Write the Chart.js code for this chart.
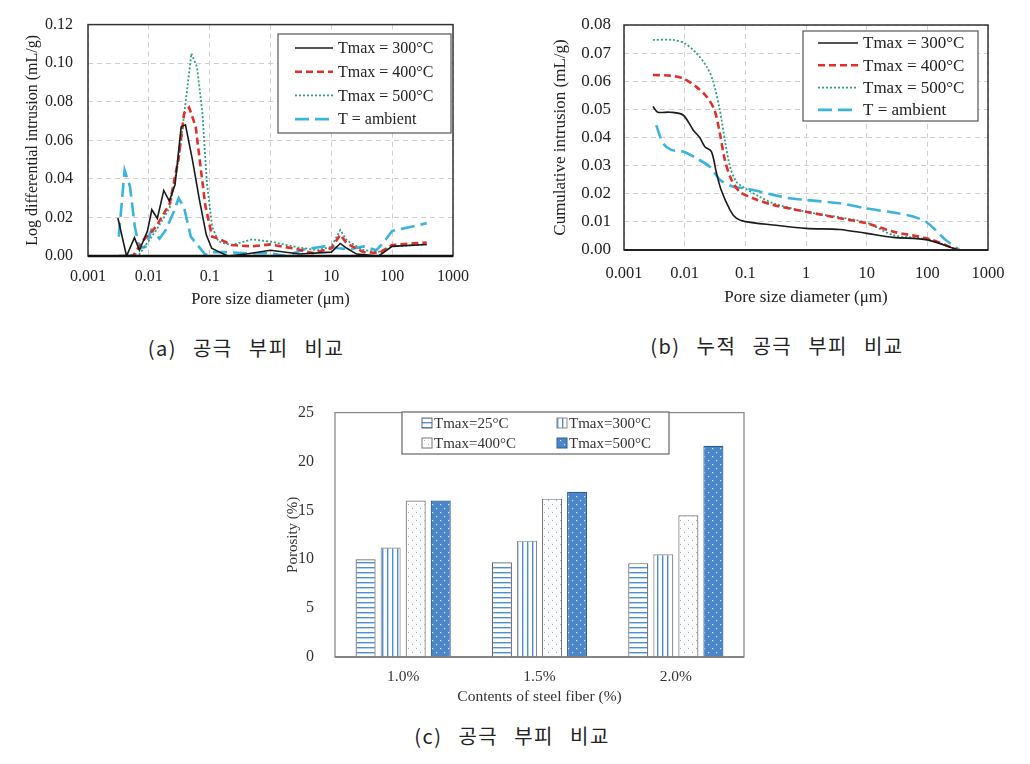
<!DOCTYPE html>
<html>
<head>
<meta charset="utf-8">
<script src="https://cdn.jsdelivr.net/npm/chart.js@4.4.1/dist/chart.umd.min.js"></script>
<style>
  body { margin: 0; background: #fff; width: 1030px; height: 764px; position: relative; overflow: hidden; }
  .panel { position: absolute; }
  .cap { position: absolute; font-family: "Noto Sans CJK KR", sans-serif; font-size: 20px; color: #222;
         white-space: pre; letter-spacing: 1.5px; word-spacing: 10px; transform: translate(-50%, -50%); }
</style>
</head>
<body>
<div class="panel" style="left:0;top:0;width:480px;height:320px"><canvas id="diffChart"></canvas></div>
<div class="panel" style="left:520px;top:0;width:510px;height:320px"><canvas id="cumChart"></canvas></div>
<div class="panel" style="left:270px;top:390px;width:500px;height:330px"><canvas id="porosityChart"></canvas></div>
<div class="cap" style="left:246px;top:347px">(a) 공극 부피 비교</div>
<div class="cap" style="left:777px;top:345px">(b) 누적 공극 부피 비교</div>
<div class="cap" style="left:512px;top:735px">(c) 공극 부피 비교</div>
<script>
// shared labels
const poreTicks = [0.001, 0.01, 0.1, 1, 10, 100, 1000];
const seriesLabels = ['Tmax = 300°C', 'Tmax = 400°C', 'Tmax = 500°C', 'T = ambient'];

// (a) log differential intrusion (mL/g) vs pore diameter (µm)
const diffD300 = [0.0031, 0.0043, 0.0058, 0.0070, 0.0095, 0.0112, 0.0138, 0.0176, 0.0217, 0.027, 0.034, 0.040, 0.052, 0.068, 0.088, 0.108, 0.145, 0.2, 0.4, 1.0, 3, 10, 14, 18, 26, 60, 100, 370];
const diffV300 = [0.0197, 0, 0.0095, 0.003, 0.013, 0.024, 0.0195, 0.034, 0.0285, 0.037, 0.067, 0.068, 0.050, 0.029, 0.011, 0.004, 0.002, 0, 0.001, 0.003, 0.001, 0.002, 0.0065, 0.004, 0.001, 0, 0.005, 0.006];
const diffD400 = [0.0032, 0.0055, 0.008, 0.013, 0.022, 0.031, 0.038, 0.046, 0.059, 0.071, 0.085, 0.11, 0.14, 0.23, 0.5, 1, 2.8, 5, 10, 14, 18, 34, 60, 100, 370];
const diffV400 = [0, 0, 0.008, 0.015, 0.027, 0.051, 0.074, 0.077, 0.067, 0.046, 0.026, 0.010, 0.009, 0.0057, 0.005, 0.006, 0.0035, 0.0015, 0.004, 0.011, 0.0065, 0.002, 0.0015, 0.0057, 0.007];
const diffD500 = [0.0032, 0.007, 0.013, 0.022, 0.031, 0.040, 0.050, 0.062, 0.076, 0.090, 0.11, 0.14, 0.23, 0.5, 1, 2.8, 6, 10, 14, 18, 34, 60, 100, 370];
const diffV500 = [0, 0.001, 0.013, 0.025, 0.050, 0.079, 0.105, 0.098, 0.074, 0.038, 0.015, 0.0075, 0.0057, 0.0086, 0.0075, 0.0045, 0.003, 0.0048, 0.0135, 0.008, 0.003, 0.0022, 0.005, 0.006];
const diffDAmb = [0.0032, 0.004, 0.0049, 0.0059, 0.007, 0.009, 0.011, 0.015, 0.019, 0.025, 0.031, 0.038, 0.049, 0.066, 0.085, 0.11, 0.18, 0.43, 1, 1.8, 3.6, 7.7, 13, 20, 34, 55, 70, 100, 370];
const diffVAmb = [0.010, 0.0445, 0.036, 0.015, 0.004, 0.005, 0.0135, 0.009, 0.0135, 0.022, 0.030, 0.025, 0.010, 0.005, 0.0005, 0.002, 0.002, 0.0014, 0.0014, 0, 0.0035, 0.005, 0.004, 0.0035, 0.005, 0.003, 0.0065, 0.013, 0.017];

// (b) cumulative intrusion (mL/g)
const cumD300 = [0.0030, 0.0036, 0.0057, 0.0094, 0.0138, 0.0177, 0.0215, 0.0276, 0.0335, 0.040, 0.056, 0.071, 0.1, 0.29, 1, 3.6, 10, 27.5, 100, 320];
const cumV300 = [0.051, 0.049, 0.049, 0.048, 0.0427, 0.040, 0.0367, 0.035, 0.0273, 0.0213, 0.0142, 0.0113, 0.0101, 0.0089, 0.0077, 0.0073, 0.0059, 0.0045, 0.0036, 0];
const cumD400 = [0.0030, 0.0057, 0.0094, 0.0156, 0.023, 0.031, 0.038, 0.046, 0.059, 0.081, 0.134, 0.29, 1, 3.6, 10, 27.5, 100, 320];
const cumV400 = [0.0622, 0.062, 0.061, 0.058, 0.0545, 0.0498, 0.0415, 0.032, 0.025, 0.0207, 0.0184, 0.016, 0.0136, 0.0113, 0.0095, 0.0065, 0.0041, 0];
const cumD500 = [0.0030, 0.0064, 0.0100, 0.0156, 0.023, 0.029, 0.038, 0.046, 0.056, 0.071, 0.1, 0.17, 0.29, 1, 3.6, 10, 27.5, 100, 320];
const cumV500 = [0.0747, 0.0747, 0.0735, 0.070, 0.0652, 0.0604, 0.0498, 0.039, 0.0296, 0.0243, 0.0219, 0.019, 0.0166, 0.0136, 0.0116, 0.0097, 0.0053, 0.0038, 0];
const cumDAmb = [0.0034, 0.0044, 0.006, 0.0094, 0.0156, 0.026, 0.038, 0.063, 0.1, 0.29, 0.54, 1, 3.6, 10, 27.5, 58, 100, 200, 340];
const cumVAmb = [0.0444, 0.038, 0.0356, 0.035, 0.0326, 0.0296, 0.025, 0.0225, 0.0219, 0.0196, 0.0184, 0.0178, 0.0166, 0.0148, 0.0133, 0.0119, 0.0097, 0.0036, 0];

// (c) porosity (%) by steel fiber content
const fiberContents = ['1.0%', '1.5%', '2.0%'];
const porosityLabels = ['Tmax=25°C', 'Tmax=300°C', 'Tmax=400°C', 'Tmax=500°C'];
const porosity25 = [10.0, 9.7, 9.6];
const porosity300 = [11.2, 11.9, 10.5];
const porosity400 = [16.0, 16.2, 14.5];
const porosity500 = [16.0, 16.9, 21.6];

Chart.defaults.font.family = '"Liberation Serif", "Times New Roman", serif';
Chart.defaults.color = '#222';
Chart.defaults.animation = false;

const toPoints = (xs, ys) => xs.map((x, i) => ({ x: x, y: ys[i] }));

// frame around plot area, heavier bottom axis
const frameBox = {
  id: 'frameBox',
  afterDraw(chart, args, o) {
    const { ctx, chartArea: a } = chart;
    ctx.save();
    ctx.strokeStyle = o.color;
    ctx.lineWidth = o.width;
    ctx.strokeRect(a.left, a.top, a.right - a.left, a.bottom - a.top);
    ctx.lineWidth = o.bottomWidth;
    ctx.strokeStyle = o.bottomColor;
    ctx.beginPath();
    ctx.moveTo(a.left, a.bottom);
    ctx.lineTo(a.right, a.bottom);
    ctx.stroke();
    ctx.restore();
  }
};

// boxed legend for the line charts
const lineLegend = {
  id: 'lineLegend',
  afterDraw(chart, args, o) {
    if (!o.show) return;
    const ctx = chart.ctx;
    ctx.save();
    ctx.fillStyle = '#fff';
    ctx.fillRect(o.left, o.top, o.width, o.height);
    ctx.strokeStyle = '#555';
    ctx.lineWidth = 1.2;
    ctx.strokeRect(o.left, o.top, o.width, o.height);
    ctx.font = o.font;
    ctx.textBaseline = 'middle';
    chart.data.datasets.forEach((ds, i) => {
      const y = o.firstRow + i * o.rowStep;
      ctx.beginPath();
      ctx.setLineDash(ds.borderDash || []);
      ctx.strokeStyle = ds.borderColor;
      ctx.lineWidth = ds.borderWidth;
      ctx.moveTo(o.sampleX0, y);
      ctx.lineTo(o.sampleX1, y);
      ctx.stroke();
      ctx.setLineDash([]);
      ctx.fillStyle = '#222';
      ctx.fillText(ds.label, o.textX, y + 1);
    });
    ctx.restore();
  }
};

// boxed 2x2 legend for the bar chart
const barLegend = {
  id: 'barLegend',
  afterDraw(chart, args, o) {
    if (!o.show) return;
    const ctx = chart.ctx;
    ctx.save();
    ctx.fillStyle = '#fff';
    ctx.fillRect(o.left, o.top, o.width, o.height);
    ctx.strokeStyle = '#666';
    ctx.lineWidth = 1.2;
    ctx.strokeRect(o.left, o.top, o.width, o.height);
    ctx.font = o.font;
    ctx.textBaseline = 'middle';
    chart.data.datasets.forEach((ds, i) => {
      const x = i % 2 === 0 ? o.col0 : o.col1;
      const y = o.firstRow + Math.floor(i / 2) * o.rowStep;
      ctx.fillStyle = ds.backgroundColor;
      ctx.fillRect(x, y - 5, 10, 10);
      ctx.strokeStyle = ds.borderColor;
      ctx.lineWidth = 1;
      ctx.strokeRect(x, y - 5, 10, 10);
      ctx.fillStyle = '#333';
      ctx.fillText(ds.label, x + 12, y + 1);
    });
    ctx.restore();
  }
};

function lineSets(d3, v3, d4, v4, d5, v5, dA, vA, tension) {
  return [
    { label: seriesLabels[0], data: toPoints(d3, v3), borderColor: '#1a1a1a', borderWidth: 1.6, borderDash: [], tension: tension },
    { label: seriesLabels[1], data: toPoints(d4, v4), borderColor: '#e0302c', borderWidth: 2.6, borderDash: [7, 4], tension: tension },
    { label: seriesLabels[2], data: toPoints(d5, v5), borderColor: '#2f9f86', borderWidth: 1.8, borderDash: [2, 2], tension: tension },
    { label: seriesLabels[3], data: toPoints(dA, vA), borderColor: '#3ab4dc', borderWidth: 2.6, borderDash: [14, 6], tension: tension }
  ];
}

function logAxis(size, tickPad, titlePadBottom, fontSize, height) {
  return {
    type: 'logarithmic',
    min: 0.001,
    max: 1000,
    afterBuildTicks: s => { s.ticks = poreTicks.map(v => ({ value: v })); },
    afterFit: s => { s.height = height; },
    ticks: { callback: v => String(v), autoSkip: false, maxRotation: 0, padding: tickPad, font: { size: size } },
    grid: { color: '#cfcfcf', drawTicks: false, lineWidth: 1 },
    border: { display: false, dash: [5, 4] },
    title: { display: true, text: 'Pore size diameter (μm)', font: { size: fontSize }, padding: { top: 0, bottom: titlePadBottom } }
  };
}

// (a)
new Chart(document.getElementById('diffChart'), {
  type: 'line',
  data: { datasets: lineSets(diffD300, diffV300, diffD400, diffV400, diffD500, diffV500, diffDAmb, diffVAmb, 0) },
  options: {
    responsive: true,
    maintainAspectRatio: false,
    layout: { padding: { left: 0, top: 24, right: 23, bottom: 0 } },
    elements: { point: { radius: 0 } },
    scales: {
      x: logAxis(16, 11, 10, 16.5, 64),
      y: {
        min: 0, max: 0.12,
        afterFit: s => { s.width = 88; },
        ticks: { stepSize: 0.02, padding: 15, font: { size: 16 }, callback: v => v.toFixed(2) },
        grid: { color: '#cfcfcf', drawTicks: false },
        border: { display: false, dash: [5, 4] },
        title: { display: true, text: 'Log differential intrusion (mL/g)', font: { size: 16 }, padding: { top: 23, bottom: 0 } }
      }
    },
    plugins: {
      legend: { display: false },
      tooltip: { enabled: false },
      frameBox: { color: '#333', width: 1.5, bottomColor: '#111', bottomWidth: 2.5 },
      lineLegend: { show: true, left: 278, top: 34, width: 173, height: 99, firstRow: 48, rowStep: 23.7, sampleX0: 295, sampleX1: 333, textX: 338, font: '16px "Liberation Serif", serif' }
    }
  },
  plugins: [frameBox, lineLegend]
});

// (b)
new Chart(document.getElementById('cumChart'), {
  type: 'line',
  data: { datasets: lineSets(cumD300, cumV300, cumD400, cumV400, cumD500, cumV500, cumDAmb, cumVAmb, 0.3) },
  options: {
    responsive: true,
    maintainAspectRatio: false,
    layout: { padding: { left: 0, top: 25, right: 42, bottom: 0 } },
    elements: { point: { radius: 0 } },
    scales: {
      x: logAxis(16.5, 14, 12, 17, 70),
      y: {
        min: 0, max: 0.08,
        afterFit: s => { s.width = 104; },
        ticks: { stepSize: 0.01, padding: 13, font: { size: 17 }, callback: v => v.toFixed(2) },
        grid: { color: '#cfcfcf', drawTicks: false },
        border: { display: false, dash: [5, 4] },
        title: { display: true, text: 'Cumulative intrusion (mL/g)', font: { size: 17 }, padding: { top: 30, bottom: 0 } }
      }
    },
    plugins: {
      legend: { display: false },
      tooltip: { enabled: false },
      frameBox: { color: '#333', width: 1.5, bottomColor: '#222', bottomWidth: 2.2 },
      lineLegend: { show: true, left: 283, top: 31, width: 175, height: 90, firstRow: 43, rowStep: 22.3, sampleX0: 298, sampleX1: 338, textX: 343, font: '17px "Liberation Serif", serif' }
    }
  },
  plugins: [frameBox, lineLegend]
});

// (c) bar fill patterns
const barCtx = document.getElementById('porosityChart').getContext('2d');
function makePattern(kind) {
  const c = document.createElement('canvas');
  const g = c.getContext('2d');
  if (kind === 'h') {
    c.width = 6; c.height = 5;
    g.fillStyle = '#fff'; g.fillRect(0, 0, 6, 5);
    g.fillStyle = '#4a90d6'; g.fillRect(0, 2, 6, 1.4);
  } else if (kind === 'v') {
    c.width = 5; c.height = 6;
    g.fillStyle = '#fff'; g.fillRect(0, 0, 5, 6);
    g.fillStyle = '#4a90d6'; g.fillRect(2, 0, 1.4, 6);
  } else if (kind === 'dot') {
    c.width = 8; c.height = 8;
    g.fillStyle = '#fff'; g.fillRect(0, 0, 8, 8);
    g.fillStyle = '#8fb0cf'; g.fillRect(2, 2, 1, 1); g.fillRect(6, 6, 1, 1);
  } else {
    c.width = 8; c.height = 8;
    g.fillStyle = '#4a86c8'; g.fillRect(0, 0, 8, 8);
    g.fillStyle = '#dfeaf6'; g.fillRect(2, 2, 1.2, 1.2); g.fillRect(6, 6, 1.2, 1.2);
  }
  return barCtx.createPattern(c, 'repeat');
}

new Chart(barCtx, {
  type: 'bar',
  data: {
    labels: fiberContents,
    datasets: [
      { label: porosityLabels[0], data: porosity25, backgroundColor: makePattern('h'), borderColor: '#666', borderWidth: 1.2 },
      { label: porosityLabels[1], data: porosity300, backgroundColor: makePattern('v'), borderColor: '#888', borderWidth: 1.2 },
      { label: porosityLabels[2], data: porosity400, backgroundColor: makePattern('dot'), borderColor: '#777', borderWidth: 1.2 },
      { label: porosityLabels[3], data: porosity500, backgroundColor: makePattern('solid'), borderColor: '#2b5d94', borderWidth: 1.2 }
    ]
  },
  options: {
    responsive: true,
    maintainAspectRatio: false,
    layout: { padding: { left: 0, top: 21, right: 26, bottom: 0 } },
    categoryPercentage: 0.735,
    barPercentage: 0.8,
    scales: {
      x: {
        afterFit: s => { s.height = 63; },
        ticks: { padding: 3, font: { size: 15.5 }, color: '#333' },
        grid: { display: false },
        border: { display: false },
        title: { display: true, text: 'Contents of steel fiber (%)', color: '#333', font: { size: 15.5 }, padding: { top: 0, bottom: 14 } }
      },
      y: {
        min: 0, max: 25,
        afterFit: s => { s.width = 65; },
        ticks: { stepSize: 5, padding: 13, font: { size: 16 }, color: '#333' },
        grid: { display: false },
        border: { display: false },
        title: { display: true, text: 'Porosity (%)', color: '#333', font: { size: 15 }, padding: { top: 14, bottom: 0 } }
      }
    },
    plugins: {
      legend: { display: false },
      tooltip: { enabled: false },
      frameBox: { color: '#8a8a8a', width: 1.3, bottomColor: '#777', bottomWidth: 1.5 },
      barLegend: { show: true, left: 132, top: 22, width: 267, height: 42, firstRow: 33, rowStep: 20, col0: 152, col1: 287, font: '15px "Liberation Serif", serif' }
    }
  },
  plugins: [frameBox, barLegend]
});
</script>
</body>
</html>
